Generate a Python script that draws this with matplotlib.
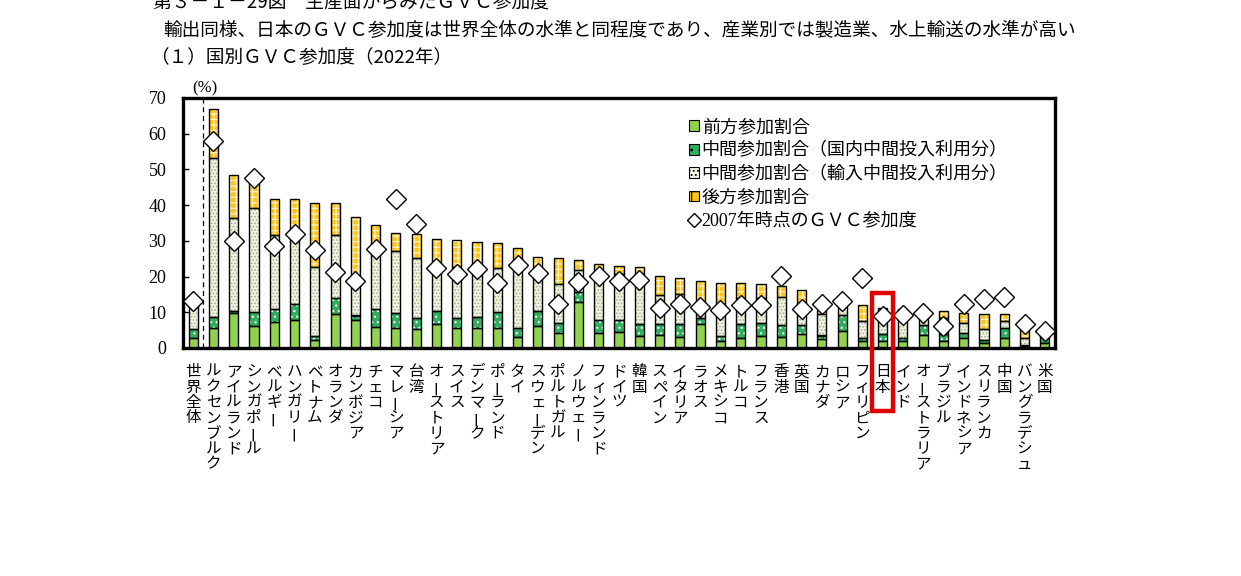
import numpy as np
import matplotlib
matplotlib.use('Agg')
import matplotlib.pyplot as plt
from matplotlib.patches import Patch, Rectangle
from matplotlib.lines import Line2D

plt.rcParams['font.family'] = ['Noto Sans CJK JP', 'DejaVu Sans']
plt.rcParams['hatch.linewidth'] = 0.8

# 国名（左から）
countries = ['世界全体', 'ルクセンブルク', 'アイルランド', 'シンガポール', 'ベルギー',
             'ハンガリー', 'ベトナム', 'オランダ', 'カンボジア', 'チェコ', 'マレーシア',
             '台湾', 'オーストリア', 'スイス', 'デンマーク', 'ポーランド', 'タイ',
             'スウェーデン', 'ポルトガル', 'ノルウェー', 'フィンランド', 'ドイツ', '韓国',
             'スペイン', 'イタリア', 'ラオス', 'メキシコ', 'トルコ', 'フランス', '香港',
             '英国', 'カナダ', 'ロシア', 'フィリピン', '日本', 'インド', 'オーストラリア',
             'ブラジル', 'インドネシア', 'スリランカ', '中国', 'バングラデシュ', '米国']

# 前方参加割合
forward = [2.8, 5.7, 9.7, 6.2, 7.4, 7.8, 2.3, 9.4, 7.8, 5.9, 5.7,
           5.4, 6.6, 5.7, 5.7, 5.7, 3.1, 6.2, 4.2, 12.9, 4.2, 4.5, 3.5,
           3.7, 3.1, 6.8, 2.1, 2.9, 3.5, 3.1, 3.8, 2.4, 4.8, 2.0, 2.1,
           2.0, 3.7, 2.1, 2.9, 1.5, 2.9, 0.5, 1.4]
# 中間参加割合（国内中間投入利用分）
mid_dom = [2.5, 3.0, 0.7, 4.0, 3.4, 4.4, 1.1, 4.5, 1.3, 4.9, 4.2,
           3.1, 3.9, 2.8, 3.0, 4.5, 2.6, 4.2, 2.9, 2.8, 3.7, 3.4, 3.3,
           3.1, 3.5, 1.7, 1.2, 3.9, 3.5, 3.4, 2.7, 1.1, 4.4, 0.8, 1.9,
           0.9, 2.8, 1.7, 1.3, 0.8, 2.7, 0.2, 1.5]
# 中間参加割合（輸入中間投入利用分）
mid_imp = [6.3, 44.4, 26.1, 29.1, 20.9, 19.3, 19.3, 17.8, 10.4, 15.3, 17.3,
           16.7, 13.3, 14.3, 14.5, 12.2, 18.5, 12.1, 10.9, 6.2, 13.1, 12.9, 14.0,
           8.1, 8.6, 2.5, 8.9, 7.1, 7.0, 7.8, 6.1, 6.1, 2.3, 4.9, 6.1,
           7.5, 2.5, 4.7, 2.8, 3.1, 2.0, 2.2, 0.6]
# 後方参加割合
backward = [0.6, 13.7, 12.0, 7.2, 10.1, 10.3, 17.9, 8.9, 17.2, 8.4, 5.0,
            6.8, 6.7, 7.4, 6.5, 7.0, 3.8, 3.0, 7.2, 2.8, 2.6, 2.2, 2.0,
            5.2, 4.4, 7.7, 6.1, 4.3, 4.0, 3.0, 3.6, 1.1, 0.3, 4.3, 1.2,
            0.4, 0.3, 1.9, 2.9, 4.2, 2.0, 2.3, 0.3]
# 2007年時点のGVC参加度
gvc2007 = [13.2, 58.1, 29.9, 47.5, 28.5, 32.0, 27.5, 21.3, 18.9, 27.7, 41.8,
           34.7, 22.3, 20.8, 22.2, 18.2, 23.2, 21.1, 12.4, 18.5, 20.1, 18.8, 19.0,
           11.3, 12.4, 11.5, 10.6, 12.0, 12.1, 20.2, 10.9, 12.2, 13.1, 19.6, 9.1,
           9.3, 9.9, 6.2, 12.4, 13.6, 14.3, 6.8, 4.9]

fwd = np.array(forward)
dom = np.array(mid_dom)
imp = np.array(mid_imp)
bwd = np.array(backward)
x = np.arange(len(countries))

c_fwd = '#92D050'
c_dom = '#2FAE5E'
c_imp = '#F0F3E4'
c_imp_dot = '#A3B585'
c_bwd = '#FFC51A'

fig = plt.figure(figsize=(12.41, 5.76), dpi=100)
ax = fig.add_axes([183 / 1241, 1 - 348 / 576, 872 / 1241, 250 / 576])

w = 0.45
segs = [
    (fwd, 0, c_fwd, c_fwd, None),
    (dom, fwd, c_dom, 'white', '...'),
    (imp, fwd + dom, c_imp, c_imp_dot, '.....'),
    (bwd, fwd + dom + imp, c_bwd, '#FFF6C8', '+++'),
]
for h, b, fc, hc, hatch in segs:
    ax.bar(x, h, w, bottom=b, color=fc, edgecolor=hc, hatch=hatch, linewidth=0, zorder=2)
    ax.bar(x, h, w, bottom=b, fill=False, edgecolor='black', linewidth=1.0, zorder=3)

ax.plot(x, gvc2007, 'D', ms=10, mfc='white', mec='black', mew=1.0, ls='none', zorder=4)

ax.axvline(0.5, color='black', ls=(0, (4, 3)), lw=0.9, zorder=1)

ax.set_xlim(-0.5, len(countries) - 0.5)
ax.set_ylim(0, 70)
ax.set_yticks(range(0, 71, 10))
ax.tick_params(axis='y', direction='in', length=4, width=1, labelsize=13, pad=12)
for lab in ax.get_yticklabels():
    lab.set_family('Liberation Serif')
ax.set_xticks([])
for s in ax.spines.values():
    s.set_linewidth(2.4)

# 縦書きの国名（長音は縦向きに回す）
for i, name in enumerate(countries):
    for k, ch in enumerate(name):
        rot = 90 if ch == 'ー' else 0
        ax.annotate(ch, xy=(i, 0), xytext=(0, -17 - k * 11.1), textcoords='offset points',
                    ha='center', va='center', fontsize=11.2, rotation=rot,
                    annotation_clip=False)

# 日本を赤枠で囲む
j = countries.index('日本')
ax.add_patch(Rectangle((j - 0.5, -17.7), 1.0, 33.0, fill=False, edgecolor='#E00000',
                       linewidth=3.2, clip_on=False, zorder=6))

ax.text(0.6, 72.8, '(%)', ha='center', va='center', fontsize=12,
        family='Liberation Serif')

handles = [
    Patch(facecolor=c_fwd, edgecolor='black', linewidth=0.8),
    Patch(facecolor=c_dom, edgecolor='black', linewidth=0.8, hatch='..'),
    Patch(facecolor=c_imp, edgecolor='black', linewidth=0.8, hatch='....'),
    Patch(facecolor=c_bwd, edgecolor='black', linewidth=0.8, hatch='+'),
    Line2D([], [], marker='D', ls='none', ms=7, mfc='white', mec='black', mew=1.0),
]
labels = ['前方参加割合', '中間参加割合（国内中間投入利用分）', '中間参加割合（輸入中間投入利用分）',
          '後方参加割合', '2007年時点のＧＶＣ参加度']
leg = fig.legend(handles, labels, loc='upper left', bbox_to_anchor=(680 / 1241, 1 - 110 / 576),
                 frameon=False, handlelength=0.55, handleheight=0.55,
                 handletextpad=0.15, labelspacing=0.35, borderpad=0,
                 prop={'family': ['Liberation Serif', 'Noto Sans CJK JP'], 'size': 13})

fig.text(153 / 1241, 1 - 2 / 576, '第３－１－29図　生産面からみたＧＶＣ参加度',
         ha='left', va='center', fontsize=13.5)
fig.text(163 / 1241, 1 - 31 / 576,
         '輸出同様、日本のＧＶＣ参加度は世界全体の水準と同程度であり、産業別では製造業、水上輸送の水準が高い',
         ha='left', va='center', fontsize=13.4)
fig.text(150 / 1241, 1 - 58 / 576, '（１）国別ＧＶＣ参加度（2022年）',
         ha='left', va='center', fontsize=13.4)

fig.savefig('out.png', dpi=100)
